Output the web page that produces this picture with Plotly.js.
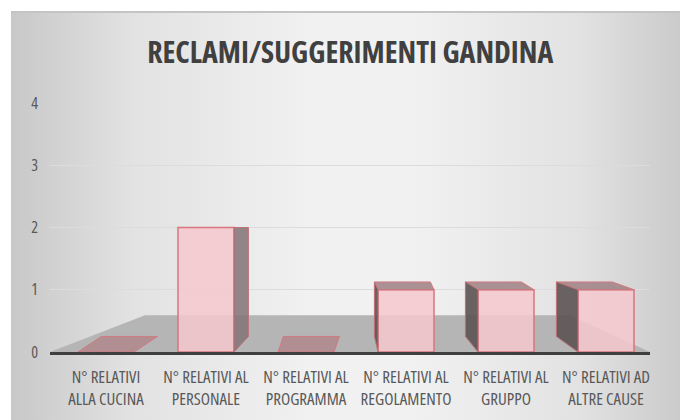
<!DOCTYPE html>
<html>
<head>
<meta charset="utf-8">
<script src="https://cdn.plot.ly/plotly-3.0.1.min.js"></script>
<style>
  html, body { margin: 0; padding: 0; background: #ffffff; }
  #bg {
    position: absolute; left: 11px; top: 11px; width: 669px; height: 409px;
    border-top: 2px solid #c4c4c4;
    background: linear-gradient(to right, #c8c8c8 0%, #e2e2e2 18%, #f1f1f1 45%, #f1f1f1 60%, #e2e2e2 85%, #cbcbcb 100%);
  }
  #chart { position: absolute; left: 0; top: 0; width: 680px; height: 420px; }
  #chart text { font-stretch: 75% !important; }
</style>
</head>
<body>
<div id="bg"></div>
<div id="chart"></div>
<script>
const categories = [
  "N° RELATIVI<br>ALLA CUCINA",
  "N° RELATIVI AL<br>PERSONALE",
  "N° RELATIVI AL<br>PROGRAMMA",
  "N° RELATIVI AL<br>REGOLAMENTO",
  "N° RELATIVI AL<br>GRUPPO",
  "N° RELATIVI AD<br>ALTRE CAUSE"
];
const values = [0, 2, 0, 1, 1, 1];
const yTicks = [0, 1, 2, 3, 4];
const titleText = "RECLAMI/SUGGERIMENTI GANDINA";

const FONT = "'Open Sans', 'DejaVu Sans Condensed', sans-serif";

// pseudo-3D faces derived from the data through axis coordinates
const halfW = 0.28;
const vanish = 2.6;
const shapes = [];
// floor
shapes.push({
  type: 'path', xref: 'x', yref: 'y', layer: 'below',
  path: 'M -0.56 0 L 5.44 0 L 4.64 0.59 L 0.39 0.59 Z',
  fillcolor: '#b5b5b5', line: { width: 0 }
});
values.forEach((v, i) => {
  const sx = (vanish - i) * 0.09;
  const topD = v < 2 ? 0.25 * (2 - v) / 2 : 0;
  const baseD = 0.25;
  if (topD > 0) {
    const x0 = i - halfW, x1 = i + halfW;
    shapes.push({
      type: 'path', xref: 'x', yref: 'y', layer: 'above',
      path: `M ${x0} ${v} L ${x1} ${v} L ${x1 + sx} ${v + topD} L ${x0 + sx} ${v + topD} Z`,
      fillcolor: v === 0 ? 'rgba(175,135,140,0.85)' : 'rgba(160,128,132,0.85)',
      line: { color: '#d07a80', width: 1 }
    });
  }
  if (v > 0) {
    const xe = sx > 0 ? i + halfW : i - halfW;
    shapes.push({
      type: 'path', xref: 'x', yref: 'y', layer: 'above',
      path: `M ${xe} 0 L ${xe + sx} ${baseD} L ${xe + sx} ${v + topD} L ${xe} ${v} Z`,
      fillcolor: sx > 0 ? 'rgba(130,115,117,0.85)' : 'rgba(92,82,83,0.9)',
      line: { color: '#c07076', width: 1 }
    });
  }
});

const trace = {
  type: 'bar',
  x: categories,
  y: values,
  width: halfW * 2,
  marker: {
    color: 'rgba(244,200,204,0.85)',
    line: { color: '#d7767d', width: 1.5 }
  },
  hoverinfo: 'x+y'
};

const layout = {
  width: 680, height: 420,
  margin: { l: 50, r: 30, t: 103, b: 68 },
  paper_bgcolor: 'rgba(0,0,0,0)',
  plot_bgcolor: 'rgba(0,0,0,0)',
  showlegend: false,
  title: {
    text: titleText,
    font: { family: FONT, size: 30, weight: 700, color: '#404040' },
    x: 0.515, xanchor: 'center',
    y: 0.876, yanchor: 'middle'
  },
  xaxis: {
    type: 'category',
    range: [-0.56, 5.44],
    showline: true, linecolor: '#3f3f3f', linewidth: 2.5,
    showgrid: false, zeroline: false,
    ticks: '', ticklabelstandoff: 8, tickangle: 0,
    tickfont: { family: FONT, size: 17, color: '#595959' },
    fixedrange: true
  },
  yaxis: {
    range: [0, 4],
    tickvals: yTicks,
    ticktext: yTicks.map(String),
    showgrid: true, gridcolor: '#dcdcdc', gridwidth: 1,
    zeroline: false, showline: false,
    ticks: '', ticklabelstandoff: 11,
    tickfont: { family: FONT, size: 16, color: '#595959' },
    fixedrange: true
  },
  shapes: shapes
};

Plotly.newPlot('chart', [trace], layout, { displayModeBar: false, staticPlot: true });
</script>
</body>
</html>
